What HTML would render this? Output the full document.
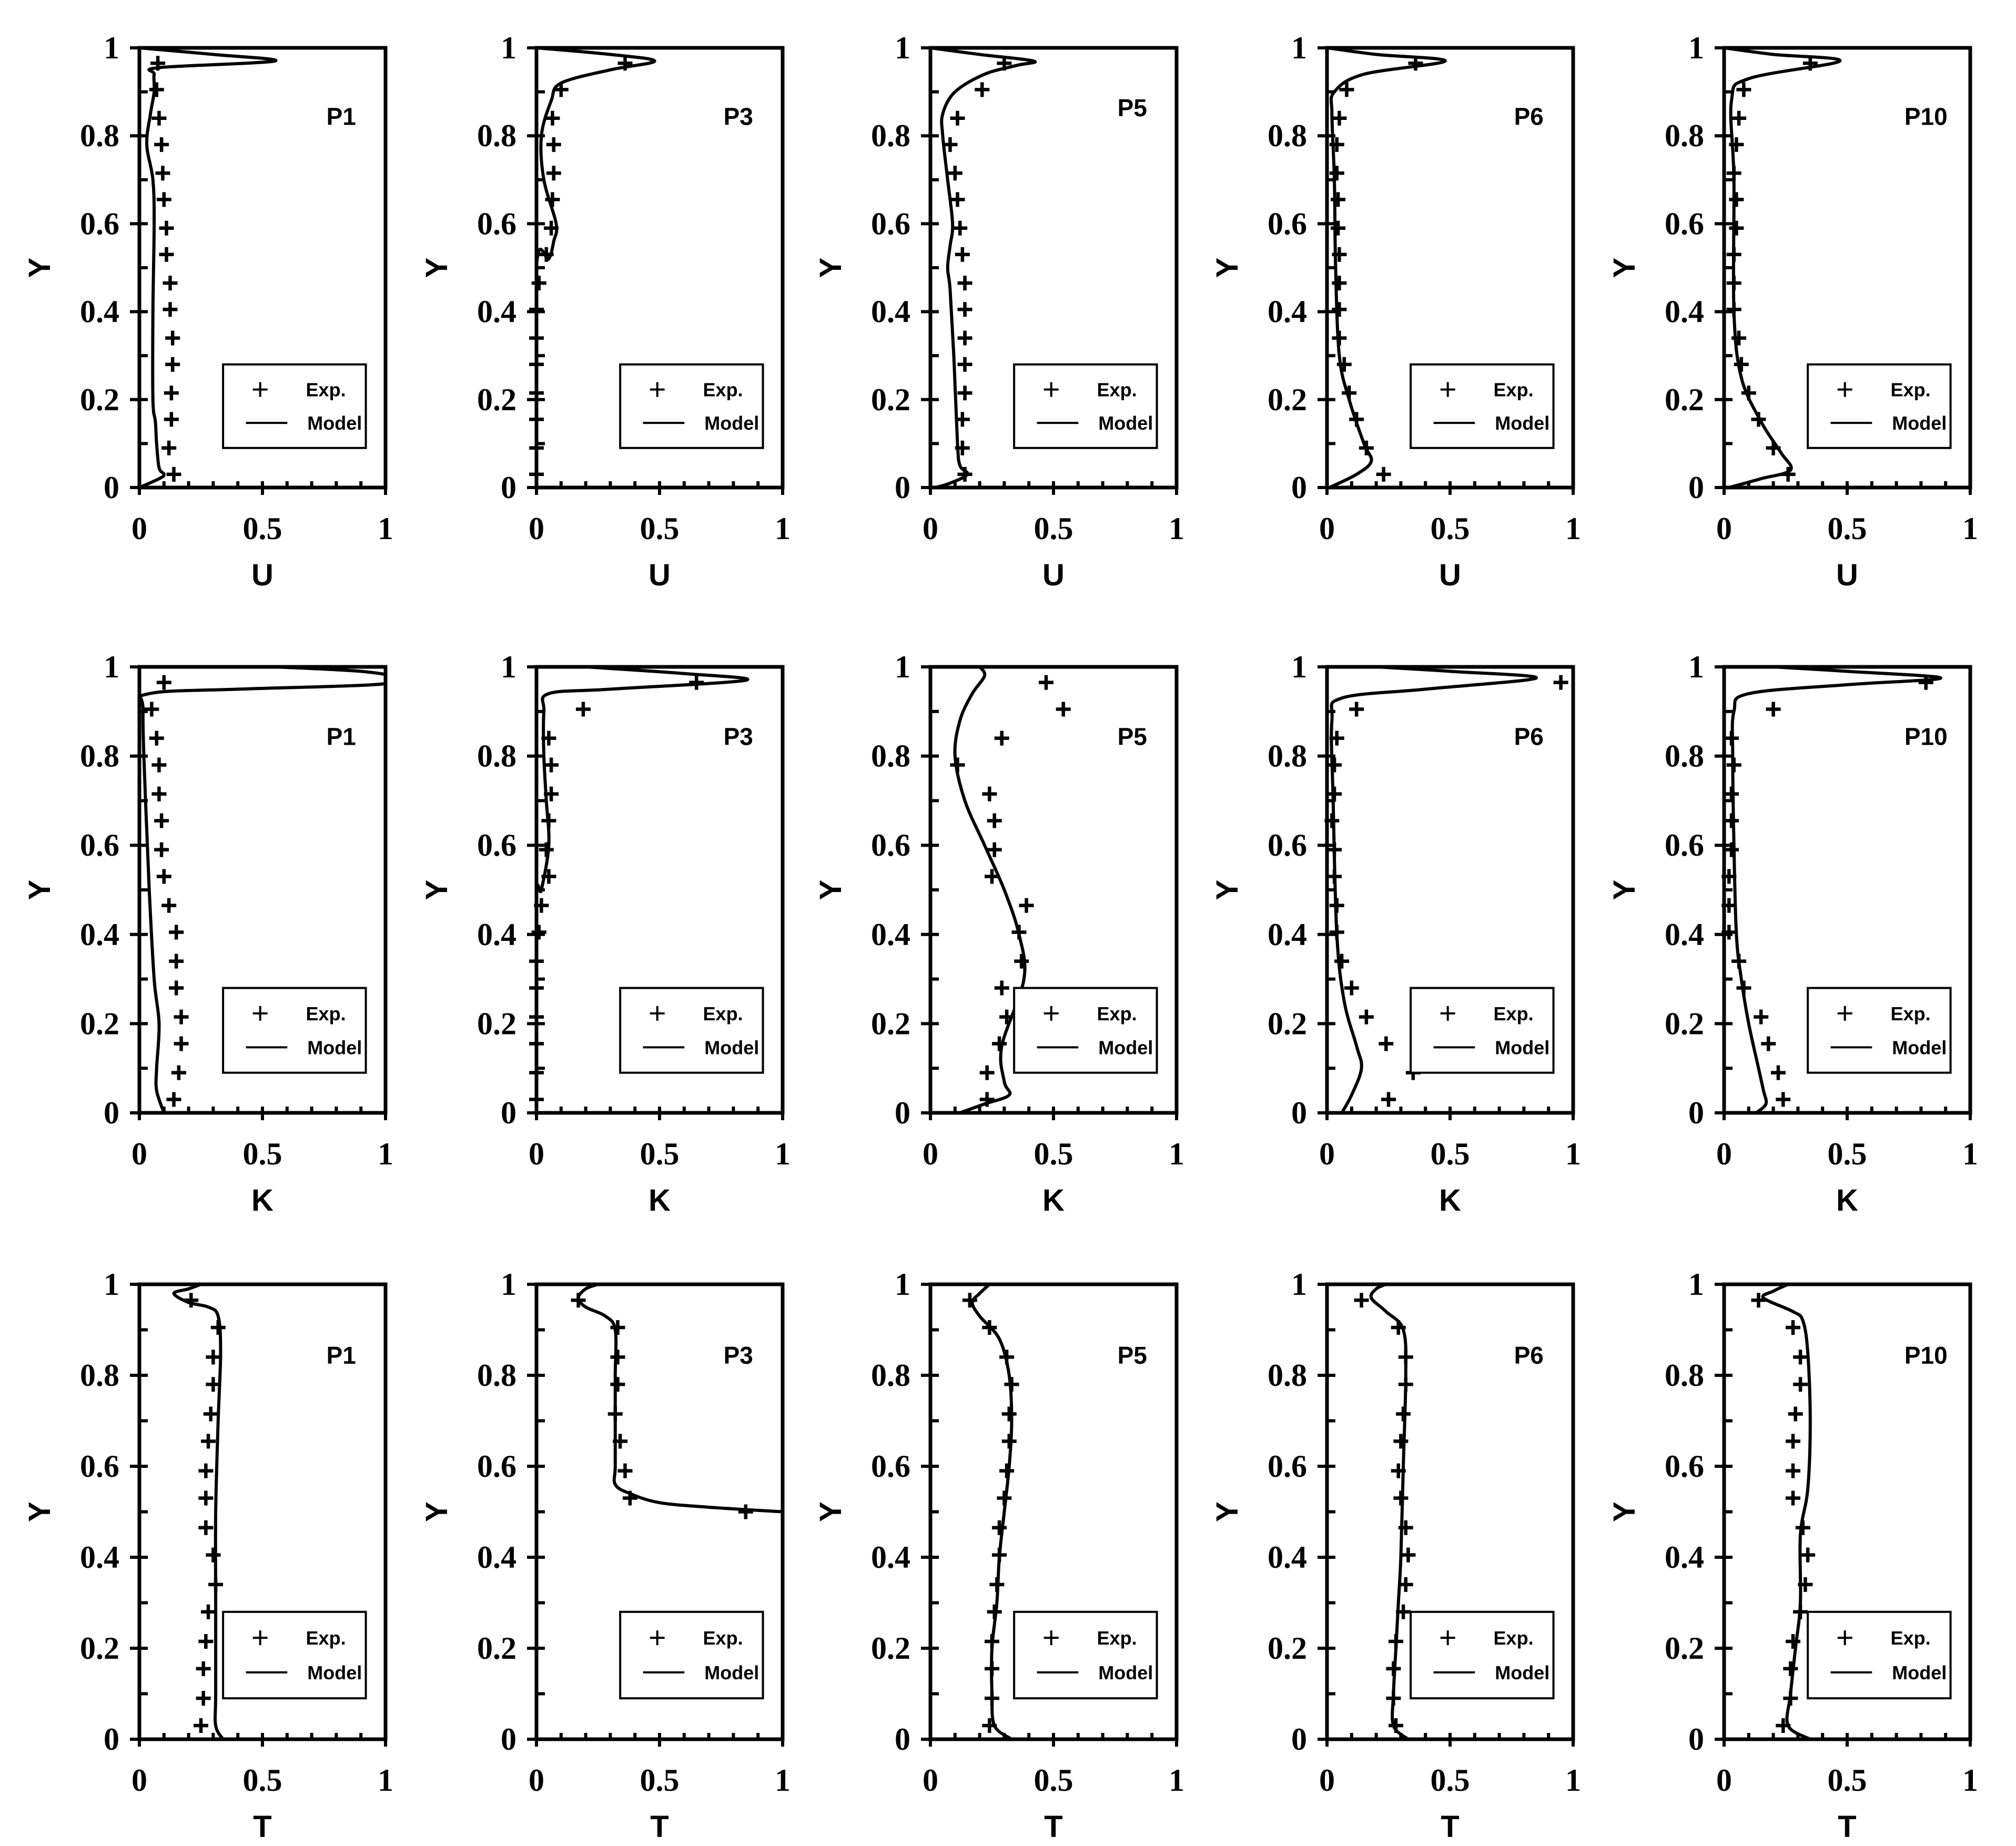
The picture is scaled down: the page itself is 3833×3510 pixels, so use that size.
<!DOCTYPE html>
<html><head><meta charset="utf-8"><style>
body{margin:0;background:#fff}
svg{display:block}
.tk{font-family:"Liberation Serif",serif;font-weight:bold;font-size:60px}
.ax{font-family:"Liberation Sans",sans-serif;font-weight:bold;font-size:58px}
.pl{font-family:"Liberation Sans",sans-serif;font-weight:bold;font-size:46px}
.lg{font-family:"Liberation Sans",sans-serif;font-weight:bold;font-size:36px}
</style></head><body>
<svg id="fig" width="3833" height="3510" viewBox="0 0 3833 3510" xmlns="http://www.w3.org/2000/svg"></svg>
<script>
const expY=[0.03,0.09,0.155,0.215,0.28,0.34,0.405,0.465,0.53,0.59,0.655,0.715,0.78,0.84,0.905,0.965];
const varNames=["U","K","T"];
const stations=["P1","P3","P5","P6","P10"];
const expU_P1=[0.14,0.12,0.13,0.13,0.135,0.135,0.125,0.125,0.11,0.11,0.10,0.095,0.09,0.08,0.07,0.075];
const expU_P3=[0,0,0,0,0,0,0,0.01,0.04,0.06,0.065,0.07,0.07,0.065,0.10,0.36];
const expU_P5=[0.14,0.13,0.13,0.14,0.14,0.14,0.14,0.14,0.13,0.12,0.11,0.10,0.08,0.11,0.21,0.30];
const expU_P6=[0.23,0.16,0.12,0.09,0.07,0.05,0.05,0.05,0.05,0.045,0.045,0.04,0.04,0.05,0.08,0.36];
const expU_P10=[0.26,0.20,0.14,0.10,0.07,0.06,0.04,0.04,0.04,0.05,0.05,0.04,0.05,0.06,0.08,0.35];
const expK_P1=[0.14,0.16,0.17,0.17,0.15,0.15,0.15,0.12,0.10,0.09,0.09,0.08,0.08,0.07,0.05,0.10];
const expK_P3=[0,0,0,0,0,0,0.01,0.02,0.05,0.04,0.05,0.06,0.06,0.05,0.19,0.65];
const expK_P5=[0.23,0.23,0.28,0.31,0.29,0.37,0.36,0.39,0.25,0.26,0.26,0.24,0.11,0.29,0.54,0.47];
const expK_P6=[0.25,0.35,0.24,0.16,0.10,0.06,0.04,0.04,0.03,0.03,0.02,0.03,0.03,0.04,0.12,0.95];
const expK_P10=[0.24,0.22,0.18,0.15,0.08,0.06,0.02,0.02,0.02,0.03,0.03,0.03,0.04,0.03,0.20,0.82];
const expT_P1=[0.25,0.26,0.26,0.27,0.28,0.31,0.30,0.27,0.27,0.27,0.28,0.29,0.30,0.30,0.32,0.21];
const expT_P3=[null,null,null,null,null,null,null,null,0.38,0.36,0.34,0.32,0.33,0.33,0.33,0.17];
const expT_P5=[0.24,0.25,0.25,0.25,0.26,0.27,0.28,0.28,0.30,0.31,0.32,0.32,0.33,0.31,0.24,0.16];
const expT_P6=[0.28,0.27,0.27,0.28,0.31,0.32,0.33,0.32,0.30,0.29,0.30,0.31,0.32,0.32,0.29,0.14];
const expT_P10=[0.24,0.27,0.27,0.28,0.31,0.33,0.34,0.32,0.28,0.28,0.28,0.29,0.31,0.31,0.28,0.14];
const extraT_P3=[[0.85,0.50]];
const modU_P1=[[0,0],[0.02,0.08],[0.03,0.10],[0.045,0.08],[0.1,0.07],[0.15,0.065],[0.2,0.055],[0.4,0.055],[0.6,0.06],[0.7,0.055],[0.78,0.03],[0.85,0.045],[0.9,0.06],[0.94,0.06],[0.955,0.08],[0.97,0.55],[0.985,0.3],[1,0]];
const modU_P3=[[0,0],[0.5,0],[0.52,0.05],[0.56,0.07],[0.6,0.08],[0.7,0.03],[0.8,0.02],[0.88,0.06],[0.92,0.1],[0.95,0.3],[0.97,0.48],[0.985,0.3],[1,0]];
const modU_P5=[[0,0.02],[0.01,0.08],[0.03,0.15],[0.05,0.12],[0.1,0.11],[0.3,0.095],[0.45,0.08],[0.5,0.07],[0.55,0.08],[0.6,0.09],[0.7,0.07],[0.8,0.05],[0.85,0.05],[0.9,0.1],[0.94,0.22],[0.96,0.35],[0.97,0.42],[0.985,0.2],[1,0]];
const modU_P6=[[0,0.01],[0.03,0.12],[0.06,0.18],[0.1,0.15],[0.2,0.09],[0.3,0.05],[0.5,0.035],[0.7,0.03],[0.85,0.02],[0.9,0.03],[0.94,0.15],[0.97,0.48],[0.985,0.2],[1,0]];
const modU_P10=[[0,0.02],[0.02,0.15],[0.04,0.27],[0.08,0.23],[0.15,0.15],[0.25,0.07],[0.4,0.04],[0.7,0.04],[0.88,0.03],[0.93,0.1],[0.97,0.47],[0.985,0.2],[1,0]];
const modK_P1=[[0,0.10],[0.05,0.07],[0.1,0.07],[0.2,0.08],[0.3,0.06],[0.5,0.04],[0.7,0.025],[0.9,0.015],[0.94,0.04],[0.95,0.4],[0.96,0.95],[0.975,1.05],[0.99,0.9],[1,0.55]];
const modK_P3=[[0,0],[0.47,0],[0.5,0.02],[0.6,0.05],[0.7,0.04],[0.8,0.03],[0.9,0.03],[0.94,0.05],[0.95,0.3],[0.97,0.85],[0.985,0.6],[1,0.2]];
const modK_P5=[[0,0.12],[0.02,0.22],[0.04,0.32],[0.07,0.30],[0.15,0.29],[0.3,0.38],[0.4,0.36],[0.5,0.30],[0.6,0.22],[0.7,0.14],[0.8,0.10],[0.88,0.12],[0.94,0.17],[0.98,0.22],[1,0.2]];
const modK_P6=[[0,0.06],[0.04,0.1],[0.1,0.14],[0.15,0.12],[0.25,0.07],[0.4,0.04],[0.7,0.025],[0.88,0.02],[0.93,0.06],[0.95,0.4],[0.975,0.85],[0.99,0.5],[1,0.2]];
const modK_P10=[[0,0.13],[0.02,0.17],[0.05,0.16],[0.1,0.14],[0.2,0.1],[0.3,0.07],[0.4,0.05],[0.6,0.04],[0.8,0.035],[0.9,0.04],[0.94,0.1],[0.96,0.5],[0.975,0.88],[0.99,0.5],[1,0.2]];
const modT_P1=[[0,0.34],[0.03,0.31],[0.1,0.31],[0.3,0.31],[0.5,0.31],[0.7,0.32],[0.85,0.33],[0.93,0.32],[0.95,0.28],[0.96,0.2],[0.98,0.14],[0.99,0.2],[1,0.25]];
const modT_P3=[[0.5,1.0],[0.51,0.7],[0.52,0.5],[0.54,0.38],[0.56,0.32],[0.6,0.32],[0.7,0.32],[0.8,0.32],[0.9,0.32],[0.93,0.28],[0.95,0.2],[0.97,0.17],[0.99,0.2],[1,0.25]];
const modT_P5=[[0,0.33],[0.03,0.26],[0.1,0.25],[0.2,0.25],[0.3,0.27],[0.4,0.28],[0.5,0.3],[0.6,0.32],[0.7,0.33],[0.8,0.32],[0.88,0.28],[0.93,0.2],[0.96,0.17],[0.98,0.2],[1,0.24]];
const modT_P6=[[0,0.33],[0.03,0.27],[0.1,0.27],[0.2,0.28],[0.3,0.29],[0.4,0.3],[0.6,0.31],[0.8,0.32],[0.9,0.31],[0.94,0.24],[0.97,0.18],[0.99,0.2],[1,0.24]];
const modT_P10=[[0,0.35],[0.03,0.26],[0.1,0.27],[0.2,0.29],[0.3,0.31],[0.45,0.31],[0.55,0.34],[0.7,0.35],[0.85,0.34],[0.92,0.32],[0.94,0.28],[0.97,0.16],[0.985,0.2],[1,0.26]];
const yTicks=["0","0.2","0.4","0.6","0.8","1"];
const xTicks=["0","0.5","1"];

const EXP=[[expU_P1,expU_P3,expU_P5,expU_P6,expU_P10],[expK_P1,expK_P3,expK_P5,expK_P6,expK_P10],[expT_P1,expT_P3,expT_P5,expT_P6,expT_P10]];
const MOD=[[modU_P1,modU_P3,modU_P5,modU_P6,modU_P10],[modK_P1,modK_P3,modK_P5,modK_P6,modK_P10],[modT_P1,modT_P3,modT_P5,modT_P6,modT_P10]];
const lefts=[265,1020,1769,2523,3278], W=468;
const tops=[91,1268,2442], Hs=[836,848,865];
const NS="http://www.w3.org/2000/svg";
const fig=document.getElementById('fig');
function mk(tag,attrs,parent,text){const e=document.createElementNS(NS,tag);for(const k in attrs)e.setAttribute(k,attrs[k]);if(text!==undefined)e.textContent=text;parent.appendChild(e);return e;}
function catmull(pts){let d=`M${pts[0][0]},${pts[0][1]}`;for(let i=0;i<pts.length-1;i++){const p0=pts[i-1]||pts[i],p1=pts[i],p2=pts[i+1],p3=pts[i+2]||p2;const c1=[p1[0]+(p2[0]-p0[0])/6,p1[1]+(p2[1]-p0[1])/6],c2=[p2[0]-(p3[0]-p1[0])/6,p2[1]-(p3[1]-p1[1])/6];d+=`C${c1[0]},${c1[1]} ${c2[0]},${c2[1]} ${p2[0]},${p2[1]}`;}return d;}
for(let r=0;r<3;r++)for(let c=0;c<5;c++){
  const L=lefts[c],T=tops[r],H=Hs[r];
  const sx=v=>L+v*W, sy=v=>T+H-v*H;
  const g=mk('g',{},fig);
  
  
  const cid=`clip${r}${c}`;
  const cp=mk('clipPath',{id:cid},g);mk('rect',{x:L,y:T,width:W,height:H},cp);
  const m=MOD[r][c].map(p=>[sx(p[1]),sy(p[0])]);
  const path=mk('path',{d:catmull(m),fill:'none',stroke:'#000','stroke-width':6,'clip-path':`url(#${cid})`},g);
  
  
  const ex=EXP[r][c];
  const pts=[];ex.forEach((v,i)=>{if(v!==null)pts.push([v,expY[i]]);});
  if(r===2&&c===1)extraT_P3.forEach(p=>pts.push(p));
  pts.forEach(p=>{const x=sx(p[0]),y=sy(p[1]);
    const m2=mk('path',{d:`M${x-14},${y}H${x+14}M${x},${y-14}V${y+14}`,stroke:'#000','stroke-width':6.5},g);
    
    });
  const fr=mk('rect',{x:L,y:T,width:W,height:H,fill:'none',stroke:'#000','stroke-width':7},g);
  
  
  for(let k=0;k<=10;k++){const y=sy(k/10);const maj=k%2===0;mk('line',{x1:maj?L-18:L,x2:L+16,y1:y,y2:y,stroke:'#000','stroke-width':6},g);
    const x=sx(k/10);const mj=k%5===0;mk('line',{x1:x,x2:x,y1:T+H-12,y2:mj?T+H+14:T+H,stroke:'#000','stroke-width':6},g);}
  yTicks.forEach((t,i)=>{const e=mk('text',{x:L-38,y:sy(i*0.2)+20,'text-anchor':'end',class:'tk'},g,t);
    
    });
  xTicks.forEach((t,i)=>{const e=mk('text',{x:sx(i*0.5),y:T+H+98,'text-anchor':'middle',class:'tk'},g,t);
    
    });
  const yt=mk('text',{x:0,y:0,transform:`translate(${L-170},${T+H/2}) rotate(-90)`,'text-anchor':'middle',class:'ax'},g,'Y');
  
  
  const xt=mk('text',{x:L+W/2,y:T+H+186,'text-anchor':'middle',class:'ax'},g,varNames[r]);
  
  
  const pl=mk('text',{x:L+W*0.82,y:T+H*(r===0&&c===2?0.135:0.155)+17,'text-anchor':'middle',class:'pl'},g,stations[c]);
  
  
  const lx=L+W*0.34,ly=T+H*0.72,lw=W*0.58,lh=H*0.19;
  const lg=mk('g',{},g);
  
  
  mk('rect',{x:lx,y:ly,width:lw,height:lh,fill:'#fff',stroke:'#000','stroke-width':4},lg);
  const cx=lx+lw*0.26;
  mk('path',{d:`M${cx-14},${ly+lh*0.3}H${cx+14}M${cx},${ly+lh*0.3-14}V${ly+lh*0.3+14}`,stroke:'#000','stroke-width':4},lg);
  mk('line',{x1:lx+lw*0.16,x2:lx+lw*0.45,y1:ly+lh*0.7,y2:ly+lh*0.7,stroke:'#000','stroke-width':4},lg);
  mk('text',{x:lx+lw*0.58,y:ly+lh*0.3+13,class:'lg'},lg,'Exp.');
  mk('text',{x:lx+lw*0.59,y:ly+lh*0.7+13,class:'lg'},lg,'Model');
}
</script>
</body></html>
